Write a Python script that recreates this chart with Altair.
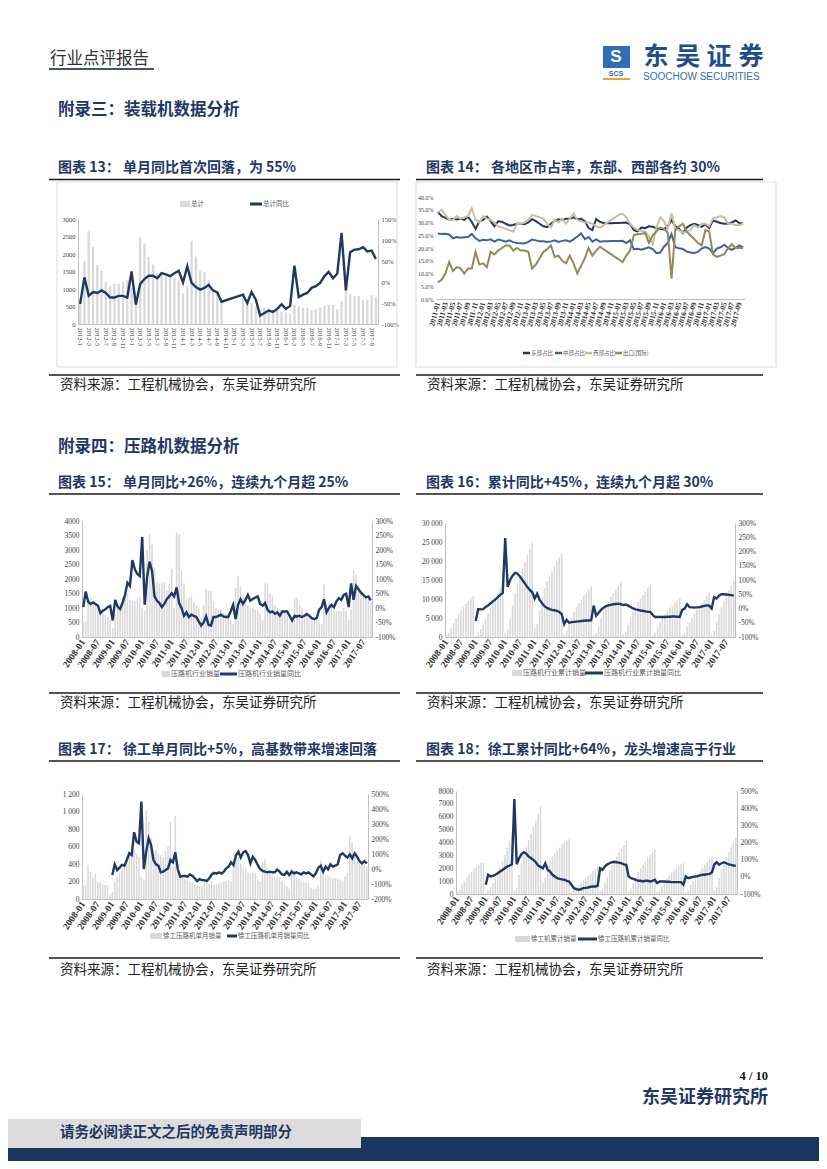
import altair as alt
import pandas as pd

NAVY = "#1F3864"
BARC = "#D9D9D9"
CJK = "Noto Sans CJK SC"
NUMF = "Liberation Serif"
W, H = 811, 1153  # drawing area (page minus 8px margin)

# ---------------- chart 13 : 装载机 ----------------
c13_months = [f"{y}-{m}" for y in range(2012, 2018) for m in range(1, 13)][:70]
c13_sales = [
    700, 1800, 2650, 2200, 1680, 1520, 1200, 1080, 1150, 1150, 1200, 1250,
    1050, 600, 2480, 2300, 1920, 1700, 1450, 1400, 1380, 1350, 1300, 1250,
    880, 1100, 2380, 1930, 1530, 1480, 1250, 1000, 900, 700, None, None,
    None, None, 880, 700, 600, 500, 420, 470, 450, 400, 380, 350,
    330, 300, 550, 500, 460, 460, 400, 420, 480, 520, 550, 550,
    430, 650, 1000, 850, 800, 800, 700, 700, 820, 780,
]
c13_yoy = [
    -52, 11, -33, -24, -26, -20, -26, -37, -37, -33, -33, -37,
    25, -54, -5, 7, 15, 15, 9, 21, 18, 14, 21, 27,
    -1, 37, -2, -12, -18, -14, -7, -20, -25, -47, None, None,
    None, None, -30, -50, -24, -42, -80, -74, -68, -71, -64, -53,
    -64, -57, 39, -36, -30, -26, -14, -10, -2, 14, 24, 9,
    20, 117, -20, 71, 77, 78, 83, 73, 75, 55,
]
c13_xlabels = c13_months[::2]

# ---------------- chart 14 : 各地区市占率 ----------------
c14_months = [f"{y}-{m:02d}" for y in range(2011, 2018) for m in range(1, 13)][:82]
c14_names = ["东部占比", "中部占比", "西部占比", "出口(国际)"]
c14_colors = ["#1F3864", "#3A64A8", "#C9BF98", "#948A54"]
c14_east = [
    34.2, 32.5, 31.8, 31.0, 31.5, 31.2, 31.5, 31.0, 32.3, 30.2, 27.5, 30.5,
    31.0, 32.3, 30.5, 28.5, 30.5, 30.3, 29.5, 28.8, 29.0, 29.5, 29.5, 29.3,
    30.0, 31.3, 30.5, 29.5, 28.5, 28.2, 29.5, 30.5, 31.3, 31.0, 31.5, 31.5,
    32.0, 31.3, 31.5, 30.5, 27.8, 27.0, 31.3, 30.3, 29.8, 29.7, 29.7, 29.8,
    29.8, 29.9, 30.0, 29.3, 27.0, 26.5, 28.0, 27.8, 28.5, 28.3, 27.8, 27.5,
    27.3, 28.5, 31.0, 28.5, 27.5, 25.8, 28.0, 29.0, 29.5, 29.0, 28.3, 29.3,
    27.8, 30.8, 30.3, 29.8, 29.5, 29.5, 30.0, 30.8, 29.8, 29.5,
]
c14_central = [
    25.7, 25.5, 25.6, 25.3, 23.8, 24.3, 24.0, 24.2, 24.3, 25.5, 23.8, 22.8,
    23.2, 23.0, 23.4, 22.5, 23.3, 23.0, 22.5, 23.0, 22.3, 22.0, 21.9, 21.8,
    22.4, 23.3, 23.0, 22.6, 22.6, 22.4, 22.6, 23.0, 22.4, 22.8, 23.0, 22.5,
    23.4, 24.5, 25.7, 23.5, 24.3, 22.5, 23.4, 22.5, 22.6, 22.6, 22.7, 22.7,
    22.7, 22.8, 21.9, 23.0, 19.5, 19.7, 19.3, 19.8, 20.3, 19.6, 18.0, 18.2,
    20.5, 22.0, 25.5, 20.3, 19.9, 19.6, 18.6, 18.2, 18.0, 18.5, 19.8, 20.4,
    19.8, 18.0, 19.8, 20.3, 21.3, 20.0, 19.3, 20.0, 21.0, 20.2,
]
c14_west = [
    34.0, 35.0, 33.0, 31.0, 31.0, 32.5, 31.5, 32.0, 32.5, 35.6, 31.0, 30.0,
    32.5, 31.5, 31.0, 30.0, 28.5, 28.0, 27.5, 27.0, 26.4, 29.5, 29.5, 30.0,
    31.0, 33.0, 32.5, 32.0, 31.5, 29.5, 28.0, 31.0, 30.0, 31.5, 29.5, 31.5,
    33.5, 31.0, 30.5, 30.0, 30.0, 29.5, 28.5, 28.0, 29.0, 30.0, 31.0, 32.0,
    33.0, 33.5, 32.0, 29.5, 28.0, 27.0, 26.8, 26.5, 24.5, 21.5, 28.0, 32.0,
    30.5, 27.5, 33.5, 27.5, 27.0, 26.0, 26.5, 27.0, 29.0, 28.0, 29.5, 29.5,
    28.5, 31.5, 32.0, 32.5, 32.0, 29.5, 29.5, 29.0, 29.0, 29.5,
]
c14_export = [
    6.5, 7.5, 10.0, 14.5, 11.0, 12.5, 12.0, 10.0, 12.0, 12.0, 18.5, 13.5,
    14.0, 12.5, 18.5, 17.5, 19.0, 20.0, 21.0, 21.0, 19.0, 20.0, 19.0, 19.0,
    18.5, 12.0, 13.5, 16.0, 18.5, 19.5, 21.0, 16.5, 17.0, 15.0, 14.0, 17.0,
    14.0, 10.0, 13.0, 16.0, 20.0, 17.0, 19.0, 20.5, 19.5, 18.5, 17.5, 16.5,
    15.5, 14.5, 17.0, 19.0, 25.0, 25.5, 25.5, 26.0, 22.0, 25.0, 26.5, 28.0,
    27.5, 26.0, 8.0, 27.0, 28.5, 29.5, 26.5, 25.0, 23.5, 22.0, 21.0, 27.0,
    26.5, 17.5, 16.5, 17.0, 17.5, 20.0, 21.5, 20.0, 20.0, 20.0,
]
c14_xlabels = c14_months[::2]

# ---------------- charts 15-18 : 压路机 ----------------
m118 = [f"{y}-{m:02d}" for y in range(2008, 2018) for m in range(1, 13)][:118]
m_labels = m118[::6]

c15_sales = [
    500, 560, 1250, 1350, 1200, 1100, 1000, 950, 800, 750, 700, 600,
    300, 800, 1000, 1200, 1400, 1500, 1500, 1300, 1250, 1250, 1300, 1400,
    1000, 900, 3000, 3550, 3200, 2400, 1900, 1850, 1850, 1900, 1600, 1850,
    2350, 1000, 3600, 3550, 2300, 1850, 1300, 1350, 1400, 1200, 1100, 1000,
    700, 1100, 1650, 1600, 1600, 1250, 1000, 950, 950, 850, 800, 850,
    600, 450, 1700, 2100, 1750, 1500, 1300, 1100, 1000, 1000, 950, 900,
    800, 600, 1850, 1850, 1500, 1400, 1100, 1000, 950, 950, 900, 800,
    500, 700, 1350, 1350, 1100, 1000, 800, 750, 700, 700, 650, 600,
    500, 450, 1800, 1100, 1200, 1050, 950, 900, 900, 900, 1000, 900,
    600, 950, 2300, 2150, 1800, 1600, 1450, 1400, 1300, 1200,
]
c15_yoy = [
    3, 57, 22, 14, 19, 14, 8, -18, -9, -4, 3, 7,
    -43, 28, 5, -4, 17, 45, 87, 76, 165, 133, 117, 110,
    245, 11, 108, 160, 128, 40, 25, 17, 3, 14, 30, 40,
    51, 40, 71, 17, 0, -27, -15, -31, -23, -27, -31, -46,
    -61, -50, -29, -58, -61, -31, -31, -27, -23, -29, -31, -31,
    -12, 11, -38, 11, 30, 14, 28, 45, 25, 31, 36, 40,
    14, 8, 17, -6, -15, -12, -20, -15, -27, -12, -12, -12,
    -27, -43, -27, -29, -27, -31, -27, -21, -27, -35, -38, -35,
    -6, 3, 30, -15, 0, 11, 3, 22, 34, 28, 45, 49,
    3, 85, 28, 76, 65, 53, 45, 37, 40, 26,
]

c16_cum = [
    500, 1060, 2310, 3660, 4860, 5960, 6960, 7910, 8710, 9460, 10160, 10760,
    300, 1100, 2100, 3300, 4700, 6200, 7700, 9000, 10250, 11500, 12800, 14200,
    1000, 1900, 4900, 8450, 11650, 14050, 15950, 17800, 19650, 21550, 23150, 25000,
    2350, 3350, 6950, 10500, 12800, 14650, 15950, 17300, 18700, 19900, 21000, 22000,
    700, 1800, 3450, 5050, 6650, 7900, 8900, 9850, 10800, 11650, 12450, 13300,
    600, 1050, 2750, 4850, 6600, 8100, 9400, 10500, 11500, 12500, 13450, 14350,
    800, 1400, 3250, 5100, 6600, 8000, 9100, 10100, 11050, 12000, 12900, 13700,
    500, 1200, 2550, 3900, 5000, 6000, 6800, 7550, 8250, 8950, 9600, 10200,
    500, 950, 2750, 3850, 5050, 6100, 7050, 7950, 8850, 9750, 10750, 11650,
    600, 1550, 3850, 6000, 7800, 9400, 10850, 12250, 13550, 14750,
]
c16_yoy = [
    None, None, None, None, None, None, None, None, None, None, None, None,
    -44, -2, -3, -2, 5, 10, 18, 25, 32, 40, 48, 55,
    247, 76, 100, 115, 125, 122, 112, 100, 88, 75, 65, 57,
    35, 52, 30, 18, 8, 2, -2, -5, -6, -8, -12, -20,
    -55, -40, -50, -48, -47, -46, -45, -44, -43, -42, -42, -41,
    10, -25, -15, -5, 3, 8, 11, 13, 15, 16, 17, 15,
    12, 14, 10, 5, 0, -3, -5, -7, -8, -10, -12, -12,
    -22, -30, -30, -30, -30, -30, -29, -29, -28, -28, -29, -30,
    -5, 0, 15, 5, 4, 3, 4, 5, 7, 9, 11, 10,
    0, 40, 35, 45, 50, 50, 49, 48, 47, 45,
]

c17_sales = [
    150, 170, 390, 310, 240, 290, 190, 190, 170, 160, 150, 50,
    80, 200, 250, 300, 350, 400, 450, 500, 500, 560, 520, 480,
    250, 220, 1010, 880, 700, 560, 560, 520, 500, 480, 550, 600,
    880, 380, 950, 400, 300, 250, 230, 220, 200, 180, 160, 150,
    150, 140, 220, 180, 170, 200, 160, 170, 180, 190, 200, 210,
    220, 200, 420, 500, 480, 400, 350, 350, 300, 290, 300, 300,
    220, 200, 430, 460, 360, 330, 280, 260, 260, 250, 200, 180,
    150, 120, 350, 330, 250, 230, 200, 200, 190, 180, 130, 120,
    120, 150, 440, 280, 260, 270, 250, 240, 240, 230, 220, 200,
    260, 300, 720, 650, 480, 430, 420, 400, 400, 370,
]
c17_yoy = [
    None, None, None, None, None, None, None, None, None, None, None, None,
    -40, 31, -7, 9, 27, 22, 60, 105, 93, 245, 183, 172,
    450, 0, 116, 205, 160, 60, 31, 22, -22, -18, -7, 4,
    60, 45, 111, 0, -51, -47, -47, -51, -36, -45, -62, -80,
    -67, -74, -74, -80, -62, -36, -25, -31, -22, -31, -18, 4,
    16, 45, 27, 89, 116, 76, 111, 120, 93, 38, 82, 60,
    27, 0, -13, -18, -22, -18, -22, -22, -4, -18, -36, -40,
    -18, -40, -18, -29, -22, -29, -36, -22, -29, -22, -36, -49,
    -29, 9, 22, -18, 16, -2, 31, 16, 22, 31, 93, 105,
    89, 76, 98, 71, 105, 82, 53, 38, 53, 38,
]

c18_cum = [
    150, 320, 710, 1020, 1260, 1550, 1740, 1930, 2100, 2260, 2410, 2460,
    80, 280, 530, 830, 1180, 1580, 2030, 2530, 3030, 3590, 4110, 4590,
    250, 470, 1480, 2360, 3060, 3620, 4180, 4700, 5200, 5680, 6230, 6830,
    880, 1260, 2210, 2610, 2910, 3160, 3390, 3610, 3810, 3990, 4150, 4300,
    150, 290, 510, 690, 860, 1060, 1220, 1390, 1570, 1760, 1960, 2170,
    220, 420, 840, 1340, 1820, 2220, 2570, 2920, 3220, 3510, 3810, 4110,
    220, 420, 850, 1310, 1670, 2000, 2280, 2540, 2800, 3050, 3250, 3430,
    150, 270, 620, 950, 1200, 1430, 1630, 1830, 2020, 2200, 2330, 2450,
    120, 270, 710, 990, 1250, 1520, 1770, 2010, 2250, 2480, 2700, 2900,
    260, 560, 1280, 1930, 2410, 2840, 3260, 3660, 4060, 4430,
]
c18_yoy = [
    None, None, None, None, None, None, None, None, None, None, None, None,
    -46, 12, 2, 6, 12, 21, 31, 40, 50, 60, 66, 73,
    453, 73, 108, 132, 143, 135, 118, 110, 99, 85, 66, 58,
    50, 79, 41, 31, 12, 2, -8, -12, -15, -17, -23, -27,
    -46, -66, -72, -75, -72, -66, -64, -62, -58, -56, -56, -52,
    50, 41, 60, 73, 79, 85, 88, 85, 83, 79, 73, 70,
    2, -8, -12, -17, -23, -23, -27, -23, -23, -27, -23, -17,
    -37, -27, -27, -27, -29, -29, -31, -31, -31, -31, -31, -46,
    2, -8, -4, 0, 2, 4, 8, 12, 12, 16, 17, 27,
    73, 85, 70, 79, 85, 79, 73, 70, 66, 64,
]

# ---------------- texts ----------------
titles = [
    ("图表 13：  单月同比首次回落，为 55%", 50, 160),
    ("图表 14：  各地区市占率，东部、西部各约 30%", 418, 160),
    ("图表 15：  单月同比+26%，连续九个月超 25%", 50, 475),
    ("图表 16：累计同比+45%，连续九个月超 30%", 418, 475),
    ("图表 17：  徐工单月同比+5%，高基数带来增速回落", 50, 742),
    ("图表 18：徐工累计同比+64%，龙头增速高于行业", 418, 742),
]
src_text = "资料来源：工程机械协会，东吴证券研究所"
sections = [("附录三：装载机数据分析", 50, 102), ("附录四：压路机数据分析", 50, 439)]
LABC = "#404040"


# ---------------- helpers ----------------
def yaxis(orient, values, expr, size, offset):
    return alt.Axis(orient=orient, values=values, labelExpr=expr, title=None, grid=False,
                    ticks=False, domain=True, domainColor="#BFBFBF", labelFont=NUMF,
                    labelFontSize=size, labelColor=LABC, labelPadding=3,
                    labelOverlap=False, offset=offset)


def xaxis(values, angle, size, bold, offset):
    return alt.Axis(orient="bottom", values=values, labelAngle=angle, title=None, grid=False,
                    ticks=False, domain=True, domainColor="#BFBFBF", labelFont=NUMF,
                    labelFontSize=size, labelFontWeight="bold" if bold else "normal",
                    labelColor="#333333", labelPadding=3, labelOverlap=False, offset=offset)


def panel(months, bars, line, box, ldom, lvals, lexpr, rdom, rvals, rexpr,
          xvals, xangle, xsize, xbold, ysize, pad):
    x0, x1, y0, y1 = box
    df = pd.DataFrame({"m": months, "b": bars, "l": line})
    xs = alt.Scale(domain=months, range=[x0, x1], paddingInner=pad, paddingOuter=pad / 2)
    b = alt.Chart(df).transform_filter("datum.b != null").mark_bar(color=BARC).encode(
        x=alt.X("m:N", scale=xs, axis=xaxis(xvals, xangle, xsize, xbold, y1 - H)),
        y=alt.Y("b:Q", scale=alt.Scale(domain=ldom, range=[y1, y0], nice=False),
                axis=yaxis("left", lvals, lexpr, ysize, -x0)))
    ln = alt.Chart(df).transform_filter("datum.l != null").mark_line(
        color=NAVY, strokeWidth=2.4).encode(
        x=alt.X("m:N", scale=xs, axis=None),
        y=alt.Y("l:Q", scale=alt.Scale(domain=rdom, range=[y1, y0], nice=False),
                axis=yaxis("right", rvals, rexpr, ysize, x1 - W)))
    return [b, ln]


PCT = "datum.value + '%'"
SPACE = "replace(format(datum.value, ','), ',', ' ')"
PLAIN = "format(datum.value, 'd')"

p13 = panel(c13_months, c13_sales, c13_yoy, (70, 370, 211, 316), [0, 3000],
            list(range(0, 3001, 500)), PLAIN, [-100, 150], list(range(-100, 151, 50)), PCT,
            c13_xlabels, 90, 6.5, False, 6.5, 0.45)
p15 = panel(m118, c15_sales, c15_yoy, (74, 364, 513, 629), [0, 4000],
            list(range(0, 4001, 500)), PLAIN, [-100, 300], list(range(-100, 301, 50)), PCT,
            m_labels, -55, 9.5, True, 7.5, 0.35)
p16 = panel(m118, c16_cum, c16_yoy, (437, 727, 515, 629), [0, 30000],
            list(range(0, 30001, 5000)), SPACE, [-100, 300], list(range(-100, 301, 50)), PCT,
            m_labels, -55, 9.5, True, 7.5, 0.35)
p17 = panel(m118, c17_sales, c17_yoy, (74, 360, 786, 891), [0, 1200],
            list(range(0, 1201, 200)), SPACE, [-200, 500], list(range(-200, 501, 100)), PCT,
            m_labels, -55, 9.5, True, 7.5, 0.35)
p18 = panel(m118, c18_cum, c18_yoy, (448, 729, 783, 886), [0, 8000],
            list(range(0, 8001, 1000)), PLAIN, [-100, 500], list(range(-100, 501, 100)), PCT,
            m_labels, -55, 9.5, True, 7.5, 0.35)

n14 = len(c14_months)
c14_df = pd.DataFrame({
    "m": c14_months * 4,
    "v": c14_east + c14_central + c14_west + c14_export,
    "s": [c14_names[0]] * n14 + [c14_names[1]] * n14 + [c14_names[2]] * n14 + [c14_names[3]] * n14,
    "o": [0] * n14 + [1] * n14 + [2] * n14 + [3] * n14,
})
X14 = (428, 737, 189, 291)
p14 = alt.Chart(c14_df).mark_line(strokeWidth=2).encode(
    x=alt.X("m:N", scale=alt.Scale(type="point", domain=c14_months, range=[X14[0], X14[1]],
                                   padding=0.5),
            axis=xaxis(c14_xlabels, -75, 7.5, True, X14[3] - H)),
    y=alt.Y("v:Q", scale=alt.Scale(domain=[0, 40], range=[X14[3], X14[2]], nice=False),
            axis=alt.Axis(orient="left", values=list(range(0, 41, 5)),
                          labelExpr="format(datum.value, '.1f') + '%'", title=None, grid=False,
                          ticks=False, domain=False, labelFont=NUMF, labelFontSize=6,
                          labelColor=LABC, labelPadding=3, offset=-X14[0])),
    color=alt.Color("s:N", scale=alt.Scale(domain=c14_names, range=c14_colors), legend=None),
    order="o:Q",
)


# ---------------- decorations (page layout, svg coords) ----------------
def texts(rows, size, color, weight="normal", font=CJK, align="left"):
    df = pd.DataFrame(rows, columns=["t", "x", "y"])
    return alt.Chart(df).mark_text(align=align, baseline="middle", fontSize=size, color=color,
                                   fontWeight=weight, font=font).encode(
        x=alt.X("x:Q", scale=None, axis=None), y=alt.Y("y:Q", scale=None, axis=None), text="t:N")


def rects(rows, filled=True, stroke="#D9D9D9"):
    df = pd.DataFrame(rows, columns=["x", "x2", "y", "y2", "c"])
    if filled:
        mk = alt.Chart(df).mark_rect()
    else:
        mk = alt.Chart(df).mark_rect(fillOpacity=0, stroke=stroke, strokeWidth=1)
    enc = dict(x=alt.X("x:Q", scale=None, axis=None), x2="x2:Q",
               y=alt.Y("y:Q", scale=None, axis=None), y2="y2:Q")
    if filled:
        enc["color"] = alt.Color("c:N", scale=None)
    return mk.encode(**enc)


def rules(rows, width):
    df = pd.DataFrame(rows, columns=["x", "x2", "y", "c"])
    return alt.Chart(df).mark_rule(strokeWidth=width).encode(
        x=alt.X("x:Q", scale=None, axis=None), x2="x2:Q",
        y=alt.Y("y:Q", scale=None, axis=None), color=alt.Color("c:N", scale=None))


deco = [
    rects([(0, 811, 1129, 1153, "#1B365F"), (0, 353, 1111, 1140, "#DCDCDC"),
           (595, 622, 38, 60, "#2F6EB5"), (595, 622, 70, 72, "#E8A33A"),
           (172, 182, 193, 199, BARC), (154, 162, 663, 669, BARC), (504, 514, 662, 668, BARC),
           (142, 154, 925, 931, BARC), (507, 522, 928, 934, BARC)]),
    rects([(49, 389, 174, 359, ""), (408, 768, 174, 359, "")], filled=False),
    rules([(41, 146, 61, "#44546A")], 2),
    rules([(41, 392, 171.5, "#1A1A1A"), (408, 755, 171.5, "#1A1A1A"),
           (41, 392, 367, "#1A1A1A"), (408, 755, 367, "#1A1A1A"),
           (41, 392, 486, "#1A1A1A"), (408, 755, 486, "#1A1A1A"),
           (41, 392, 685, "#1A1A1A"), (408, 755, 685, "#1A1A1A"),
           (41, 392, 753, "#1A1A1A"), (408, 755, 753, "#1A1A1A"),
           (41, 392, 950, "#1A1A1A"), (408, 755, 950, "#1A1A1A")], 1.5),
    rules([(242, 254, 196, NAVY), (212, 229, 666, NAVY), (577, 595, 665, NAVY),
           (219, 229, 928, NAVY), (570, 589, 931, NAVY)], 3),
    rules([(515, 522, 345, c14_colors[0]), (547, 554, 345, c14_colors[1]),
           (577, 584, 345, c14_colors[2]), (607, 614, 345, c14_colors[3])], 2.5),
    texts([("行业点评报告", 42, 51)], 16.5, "#333333"),
    texts([("东", 648, 49), ("吴", 680, 49), ("证", 711, 49), ("券", 743, 49)], 25,
          "#1F4E8C", "bold", align="center"),
    texts([("SOOCHOW SECURITIES", 635, 69)], 10, "#2F6EB5", font="Liberation Sans"),
    texts([("SCS", 608, 66)], 7, "#2F6EB5", "bold", font="Liberation Sans", align="center"),
    texts([("S", 608, 49)], 17, "white", "bold", font="Liberation Sans", align="center"),
    texts([(s, x, y) for s, x, y in sections], 16.5, NAVY, "bold"),
    texts([(s, x, y) for s, x, y in titles], 14, NAVY, "bold"),
    texts([(src_text, 52, 377), (src_text, 419, 377), (src_text, 52, 695),
           (src_text, 419, 695), (src_text, 52, 962), (src_text, 419, 962)], 13.5, "#222222"),
    texts([("总计", 183, 196), ("总计同比", 255, 196)], 6.5, "#595959"),
    texts([(c14_names[0], 523, 345), (c14_names[1], 555, 345), (c14_names[2], 585, 345),
           (c14_names[3], 615, 345)], 5.5, "#595959"),
    texts([("压路机行业销量", 163, 666), ("压路机行业销量同比", 230, 666),
           ("压路机行业累计销量", 515, 665), ("压路机行业累计销量同比", 596, 665)], 7, "#595959"),
    texts([("徐工压路机单月销量", 155, 928), ("徐工压路机单月销量同比", 230, 928),
           ("徐工机累计销量", 523, 931), ("徐工压路机累计销量同比", 590, 931)], 6.5, "#595959"),
    texts([("4 / 10", 760, 1068)], 12.5, "#111111", "bold", font=NUMF, align="right"),
    texts([("东吴证券研究所", 760, 1090)], 18, NAVY, "bold", align="right"),
    texts([("请务必阅读正文之后的免责声明部分", 52, 1125)], 14.5, NAVY, "bold"),
]

chart = alt.layer(*deco, *p13, p14, *p15, *p16, *p17, *p18).resolve_scale(
    x="independent", y="independent", color="independent"
).properties(width=W, height=H, padding=0, background="white")
chart = chart.configure(font=CJK).configure_view(stroke=None)

chart.save("out.html", embed_options={"renderer": "svg", "actions": False})
